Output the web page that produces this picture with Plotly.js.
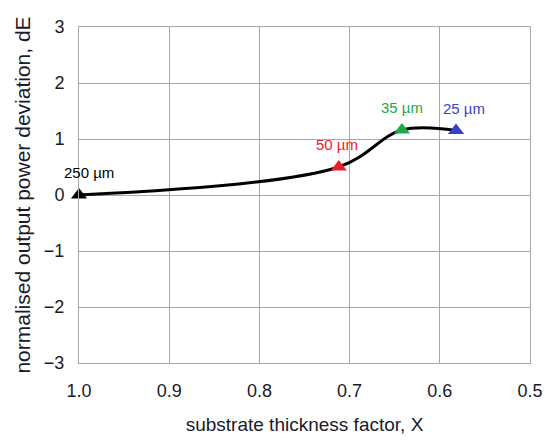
<!DOCTYPE html>
<html><head><meta charset="utf-8">
<script src="https://cdn.plot.ly/plotly-3.0.1.min.js"></script>
<style>body{margin:0;background:#fff}#c{width:545px;height:441px}</style>
</head><body><div id="c"></div>
<script>
const thicknessFactor = [1.0, 0.712, 0.642, 0.582];
const deviation = [0.0, 0.5, 1.16, 1.15];
const pointLabels = ["250 µm", "50 µm", "35 µm", "25 µm"];
const pointColors = ["#000000", "#e8202a", "#22a84a", "#3a3fc8"];
const labelShiftX = [10, -2, 0, 8];
const xTicks = [1.0, 0.9, 0.8, 0.7, 0.6, 0.5];
const xTickText = ["1.0", "0.9", "0.8", "0.7", "0.6", "0.5"];
const yTicks = [-3, -2, -1, 0, 1, 2, 3];

const traces = [
  {x: thicknessFactor, y: deviation, mode: 'lines', line: {shape: 'spline', smoothing: 1.0, color: '#000', width: 3}, hoverinfo: 'skip', showlegend: false},
  {x: thicknessFactor, y: deviation, mode: 'markers',
   marker: {symbol: 'triangle-up', size: 14, color: pointColors}, showlegend: false, cliponaxis: false}
];
const annotations = pointLabels.map((t, i) => ({
  x: thicknessFactor[i], y: deviation[i], text: t, showarrow: false,
  xanchor: 'center', yanchor: 'bottom', xshift: labelShiftX[i], yshift: 12,
  font: {family: 'Liberation Sans, Arial', size: 15, color: pointColors[i]}
}));
const layout = {
  width: 545, height: 441,
  margin: {l: 79, r: 15, t: 27, b: 78},
  paper_bgcolor: '#fff', plot_bgcolor: '#fff',
  font: {family: 'Liberation Sans, Arial', size: 18, color: '#1a1a2a'},
  annotations: annotations,
  xaxis: {range: [1.0, 0.5], tickvals: xTicks, ticktext: xTickText, showgrid: true, gridcolor: '#a8a8a8', gridwidth: 1,
          showline: true, linecolor: '#a8a8a8', mirror: true, zeroline: false, ticks: '', ticklen: 0, ticklabelstandoff: 11,
          title: {text: 'substrate thickness factor, X', font: {size: 19}, standoff: 18}},
  yaxis: {range: [-3, 3], tickvals: yTicks, showgrid: true, gridcolor: '#a8a8a8', gridwidth: 1,
          showline: true, linecolor: '#a8a8a8', mirror: true, zeroline: false, ticks: '', ticklabelstandoff: 10,
          title: {text: 'normalised output power deviation, dE', font: {size: 21}, standoff: 7}}
};
Plotly.newPlot('c', traces, layout, {displayModeBar: false, staticPlot: true});
</script></body></html>
